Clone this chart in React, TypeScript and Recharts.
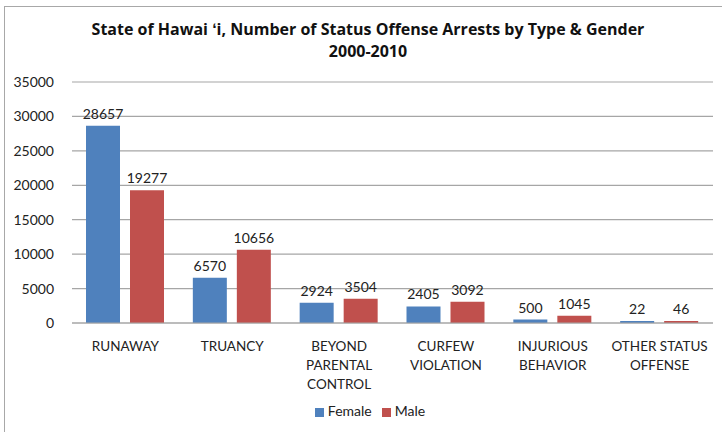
import React from "react";
import { BarChart, Bar, XAxis, YAxis, CartesianGrid, Legend, LabelList } from "recharts";

const categories = ["RUNAWAY", "TRUANCY", "BEYOND PARENTAL CONTROL", "CURFEW VIOLATION", "INJURIOUS BEHAVIOR", "OTHER STATUS OFFENSE"];
const categoryLines: string[][] = [
  ["RUNAWAY"],
  ["TRUANCY"],
  ["BEYOND", "PARENTAL", "CONTROL"],
  ["CURFEW", "VIOLATION"],
  ["INJURIOUS", "BEHAVIOR"],
  ["OTHER STATUS", "OFFENSE"],
];
const female = [28657, 6570, 2924, 2405, 500, 22];
const male = [19277, 10656, 3504, 3092, 1045, 46];
const yTicks = [0, 5000, 10000, 15000, 20000, 25000, 30000, 35000];

const data = categories.map((c, i) => ({ name: c, Female: female[i], Male: male[i] }));

const FONT = "Lato, 'Open Sans', sans-serif";

const XTick = (props: any) => {
  const { x, y, payload } = props;
  const lines = categoryLines[payload.index] || [payload.value];
  return (
    <text x={x} y={y} textAnchor="middle" fill="#222" fontSize={13.5} fontFamily={FONT}>
      {lines.map((l, i) => (
        <tspan key={i} x={x} dy={i === 0 ? 20 : 19}>
          {l}
        </tspan>
      ))}
    </text>
  );
};

export default function App() {
  return (
    <div style={{ position: "absolute", left: 0, top: 0, width: 722, height: 432, background: "#fff", overflow: "hidden" }}>
      <div
        style={{
          position: "absolute",
          left: 4,
          top: 6,
          width: 730,
          height: 440,
          border: "1px solid #a8a8a8",
          boxSizing: "border-box",
        }}
      />
      <div
        style={{
          position: "absolute",
          left: 0,
          top: 18,
          width: 736,
          textAlign: "center",
          fontFamily: "'Open Sans', sans-serif",
          fontWeight: 700,
          fontSize: 16,
          lineHeight: "22px",
          color: "#111",
        }}
      >
        <div>State of Hawai ʻi, Number of Status Offense Arrests by Type &amp; Gender</div>
        <div>2000-2010</div>
      </div>
      <div style={{ position: "absolute", left: 0, top: 0 }}>
        <BarChart
          width={722}
          height={432}
          data={data}
          margin={{ top: 82, right: 9, left: 0, bottom: 39 }}
          barCategoryGap={14}
          barGap={10}
        >
          <CartesianGrid vertical={false} stroke="#a6a6a6" strokeWidth={1.2} />
          <XAxis
            dataKey="name"
            interval={0}
            tickLine={false}
            axisLine={{ stroke: "#a6a6a6", strokeWidth: 1.2 }}
            tick={<XTick />}
            height={70}
          />
          <YAxis
            width={72}
            domain={[0, 35000]}
            ticks={yTicks}
            interval={0}
            axisLine={false}
            tickLine={false}
            tickMargin={12}
            tick={{ fill: "#222", fontSize: 14, fontFamily: FONT }}
          />
          <Legend
            verticalAlign="middle"
            align="center"
            iconType="square"
            iconSize={9}
            wrapperStyle={{ top: 402, left: 0, width: 750, fontFamily: FONT, fontSize: 14 }}
            formatter={(v: string) => <span style={{ color: "#222" }}>{v}</span>}
          />
          <Bar dataKey="Female" fill="#4F81BD" minPointSize={2} isAnimationActive={false}>
            <LabelList dataKey="Female" position="top" offset={7} fill="#222" fontSize={14} fontFamily={FONT} />
          </Bar>
          <Bar dataKey="Male" fill="#C0504D" minPointSize={2} isAnimationActive={false}>
            <LabelList dataKey="Male" position="top" offset={7} fill="#222" fontSize={14} fontFamily={FONT} />
          </Bar>
        </BarChart>
      </div>
    </div>
  );
}
